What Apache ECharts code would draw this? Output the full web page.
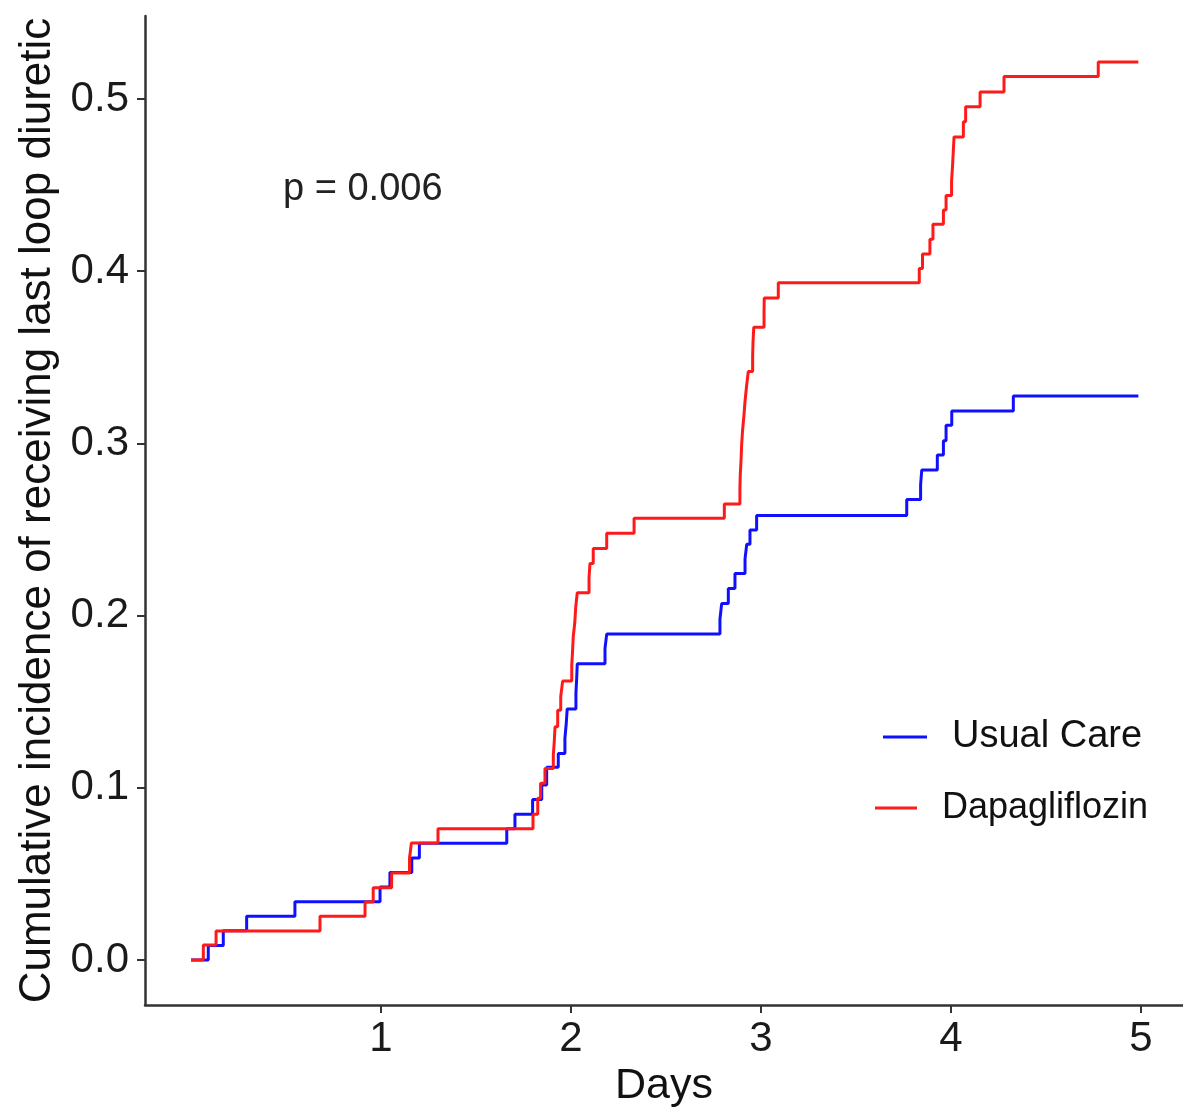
<!DOCTYPE html>
<html>
<head>
<meta charset="utf-8">
<script src="https://cdn.jsdelivr.net/npm/echarts@6/dist/echarts.min.js"></script>
<style>
  html, body { margin: 0; padding: 0; background: #fff; }
  #main { width: 1183px; height: 1109px; }
</style>
</head>
<body>
<div id="main"></div>
<script>
// step points: [day, cumulative incidence]
var usualCareDays = [0, 0.091, 0.17, 0.293, 0.547, 0.995, 1.047, 1.162, 1.202, 1.662, 1.705, 1.798, 1.846, 1.872, 1.933, 1.968, 1.975, 1.98, 2.026, 2.03, 2.033, 2.179, 2.188, 2.784, 2.793, 2.828, 2.863, 2.916, 2.925, 2.942, 2.977, 3.767, 3.84, 3.846, 3.928, 3.96, 3.974, 4.004, 4.328, 4.986];
var usualCareInc  = [0, 0.0085, 0.017, 0.0254, 0.0339, 0.0424, 0.0508, 0.0593, 0.0678, 0.0763, 0.0847, 0.0932, 0.1017, 0.1119, 0.12, 0.1288, 0.1373, 0.1458, 0.155, 0.1636, 0.172, 0.181, 0.1893, 0.198, 0.207, 0.2158, 0.2245, 0.233, 0.2415, 0.2497, 0.2582, 0.2675, 0.276, 0.2845, 0.2933, 0.3016, 0.3105, 0.3188, 0.3275, 0.3275];

var dapaDays = [0, 0.065, 0.132, 0.679, 0.916, 0.959, 1.056, 1.15, 1.16, 1.30, 1.80, 1.825, 1.84, 1.863, 1.907, 1.912, 1.916, 1.93, 1.946, 1.956, 2.004, 2.008, 2.012, 2.02, 2.025, 2.033, 2.095, 2.1, 2.117, 2.188, 2.332, 2.807, 2.889, 2.891, 2.895, 2.898, 2.903, 2.91, 2.916, 2.924, 2.933, 2.956, 2.958, 2.962, 3.016, 3.017, 3.091, 3.833, 3.85, 3.889, 3.905, 3.96, 3.974, 4.003, 4.008, 4.012, 4.016, 4.065, 4.077, 4.153, 4.279, 4.775, 4.986];
var dapaInc  = [0, 0.0087, 0.0168, 0.0255, 0.0337, 0.042, 0.0505, 0.059, 0.068, 0.0763, 0.0847, 0.0939, 0.1026, 0.1113, 0.119, 0.127, 0.1355, 0.145, 0.153, 0.162, 0.171, 0.179, 0.188, 0.196, 0.205, 0.2133, 0.222, 0.2303, 0.239, 0.2478, 0.2565, 0.2648, 0.2733, 0.2819, 0.2904, 0.299, 0.3075, 0.316, 0.3246, 0.3332, 0.3417, 0.3503, 0.3588, 0.3674, 0.3759, 0.3845, 0.3933, 0.4016, 0.41, 0.4185, 0.4272, 0.4355, 0.444, 0.4525, 0.461, 0.4695, 0.478, 0.4868, 0.4955, 0.504, 0.513, 0.5215, 0.5215];

var xTicks = [1, 2, 3, 4, 5];
var yTicks = [0, 0.1, 0.2, 0.3, 0.4, 0.5];
var pText = 'p = 0.006';

function pairs(xs, ys) {
  var out = [];
  for (var i = 0; i < xs.length; i++) out.push([xs[i], ys[i]]);
  return out;
}

var font = 'Liberation Sans';
var axisCol = '#333333';

var myChart = echarts.init(document.getElementById('main'));
var option = {
  animation: false,
  backgroundColor: '#ffffff',
  grid: { left: 145, right: 0, top: 16, bottom: 104, outerBoundsMode: 'none', containLabel: false },
  xAxis: {
    type: 'value',
    min: -0.242,
    max: 5.221,
    name: 'Days',
    nameLocation: 'middle',
    nameGap: 58,
    nameTextStyle: { fontFamily: font, fontSize: 43, color: '#111' },
    splitLine: { show: false },
    axisLine: { onZero: false, lineStyle: { color: axisCol, width: 2.5 } },
    axisTick: { customValues: xTicks, length: 8, lineStyle: { color: axisCol, width: 2 } },
    axisLabel: { customValues: xTicks, margin: 13, fontFamily: font, fontSize: 42, color: '#1a1a1a' }
  },
  yAxis: {
    type: 'value',
    min: -0.0261,
    max: 0.5482,
    name: 'Cumulative incidence of receiving last loop diuretic',
    nameLocation: 'middle',
    nameGap: 84,
    nameTextStyle: { fontFamily: font, fontSize: 44, color: '#111' },
    splitLine: { show: false },
    axisLine: { show: true, onZero: false, lineStyle: { color: axisCol, width: 2.5 } },
    axisTick: { show: true, customValues: yTicks, length: 8, lineStyle: { color: axisCol, width: 2 } },
    axisLabel: {
      customValues: yTicks, margin: 16, fontFamily: font, fontSize: 42, color: '#1a1a1a',
      formatter: function (v) { return v.toFixed(1); }
    }
  },
  legend: [
    {
      data: ['Usual Care'], left: 883, top: 718, padding: 0,
      icon: 'rect', itemWidth: 44, itemHeight: 3,
      textStyle: { fontFamily: font, fontSize: 38, color: '#111', padding: [0, 0, 0, 20] }
    },
    {
      data: ['Dapagliflozin'], left: 875, top: 790, padding: 0,
      icon: 'rect', itemWidth: 42, itemHeight: 3,
      textStyle: { fontFamily: font, fontSize: 36, color: '#111', padding: [0, 0, 0, 20] }
    }
  ],
  graphic: [
    {
      type: 'text', left: 283, top: 171,
      style: { text: pText, font: '38px "Liberation Sans"', fill: '#222' }
    }
  ],
  series: [
    {
      name: 'Usual Care', type: 'line', step: 'end', showSymbol: false, symbol: 'none',
      data: pairs(usualCareDays, usualCareInc),
      lineStyle: { color: '#1010ff', width: 3 }, itemStyle: { color: '#1010ff' }
    },
    {
      name: 'Dapagliflozin', type: 'line', step: 'end', showSymbol: false, symbol: 'none',
      data: pairs(dapaDays, dapaInc),
      lineStyle: { color: '#ff1a1a', width: 3 }, itemStyle: { color: '#ff1a1a' }
    }
  ]
};
myChart.setOption(option);
</script>
</body>
</html>
